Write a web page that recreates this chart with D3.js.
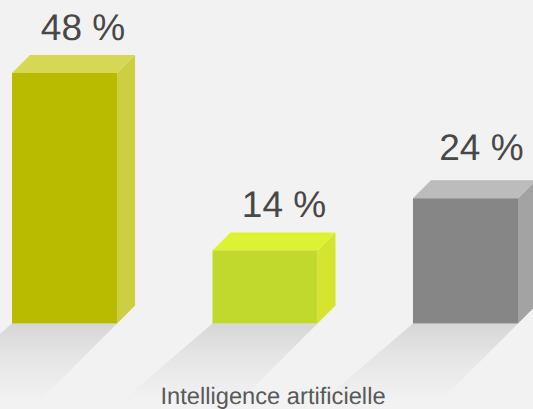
<!DOCTYPE html>
<html><head><meta charset="utf-8">
<script src="https://cdn.jsdelivr.net/npm/d3@7/dist/d3.min.js"></script>
<style>html,body{margin:0;padding:0;background:#f2f2f2;overflow:hidden}svg{display:block}text{text-rendering:geometricPrecision}</style>
</head><body><svg id="c" width="533" height="409"></svg>
<script>
const categories = ["A", "B", "C"];
const values = [48, 14, 24];
const labels = ["48 %", "14 %", "24 %"];
const frontColors = ["#b8bb00", "#c0d92c", "#868686"];
const sideColors = ["#cdcf43", "#d5e52e", "#a3a3a3"];
const topColors = ["#d6d755", "#dcf233", "#bcbcbc"];
const labelShiftX = [9.5, 10, 7];
const labelShiftY = [-0.5, 0, -5];
const caption = "Intelligence artificielle";

const W = 533, H = 409, base = 323.5, depth = 18;
const svg = d3.select("#c");
const x = d3.scaleBand().domain(categories).range([12, 518]).paddingInner(0.476).paddingOuter(0);
const y = d3.scaleLinear().domain([0, 48]).range([base, 73]);

const defs = svg.append("defs");
const g = defs.append("linearGradient").attr("id", "sh").attr("x1", 0).attr("y1", 0).attr("x2", 0).attr("y2", 1);
g.append("stop").attr("offset", 0).attr("stop-color", "#d6d6d6");
g.append("stop").attr("offset", 0.35).attr("stop-color", "#e4e4e4");
g.append("stop").attr("offset", 0.9).attr("stop-color", "#f2f2f2");

svg.append("rect").attr("width", W).attr("height", H).attr("fill", "#f2f2f2");

const pts = a => a.map(p => p.join(",")).join(" ");
const bars = svg.selectAll("g.bar").data(categories.map((c, i) => ({c, i, v: values[i]}))).join("g").attr("class", "bar");

bars.append("polygon").attr("fill", "url(#sh)").attr("points", d => {
  const l = x(d.c), r = l + x.bandwidth();
  return pts([[l, base], [r, base], [r - (H - base), H], [l - 100, H]]);
});
bars.append("polygon").attr("fill", d => sideColors[d.i]).attr("points", d => {
  const r = x(d.c) + x.bandwidth(), t = y(d.v);
  return pts([[r, t], [r + depth, t - depth], [r + depth, base - depth], [r, base]]);
});
bars.append("polygon").attr("fill", d => topColors[d.i]).attr("points", d => {
  const l = x(d.c), r = l + x.bandwidth(), t = y(d.v);
  return pts([[l, t], [l + depth, t - depth], [r + depth, t - depth], [r, t]]);
});
bars.append("rect").attr("fill", d => frontColors[d.i])
  .attr("x", d => x(d.c)).attr("y", d => y(d.v))
  .attr("width", x.bandwidth()).attr("height", d => base - y(d.v));
bars.append("text").text(d => labels[d.i])
  .attr("x", d => x(d.c) + (x.bandwidth() + depth) / 2 + labelShiftX[d.i])
  .attr("y", d => y(d.v) - 33 + labelShiftY[d.i])
  .attr("text-anchor", "middle").attr("fill", "#484848")
  .attr("font-family", "Liberation Sans, Arial, sans-serif").attr("font-size", 37);

svg.append("text").text(caption).attr("x", 273).attr("y", 404)
  .attr("text-anchor", "middle").attr("fill", "#595959")
  .attr("font-family", "Liberation Sans, Arial, sans-serif").attr("font-size", 23.7);
</script></body></html>
